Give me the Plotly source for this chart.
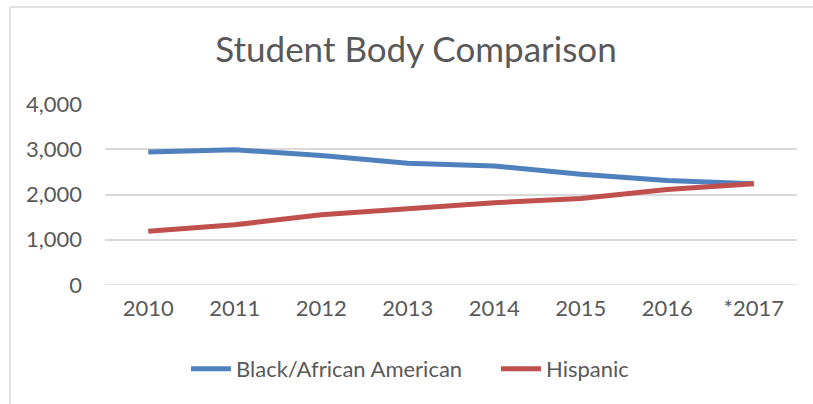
import plotly.graph_objects as go

years = ["2010", "2011", "2012", "2013", "2014", "2015", "2016", "*2017"]
black_african_american = [2940, 2990, 2860, 2690, 2630, 2450, 2310, 2240]
hispanic = [1190, 1330, 1550, 1680, 1820, 1910, 2110, 2240]
y_ticks = [0, 1000, 2000, 3000, 4000]

W, H = 813, 404
L, R, T, B = 105, 16, 104, 119
pw, ph = W - L - R, H - T - B

def px_x(x):
    return (x - L) / pw

def px_y(y):
    return (H - B - y) / ph

TEXT = "#595959"
FONT = "Lato"

fig = go.Figure()
fig.add_trace(go.Scatter(x=years, y=black_african_american, mode="lines",
                         name="Black/African American",
                         line=dict(color="#4f81bd", width=5)))
fig.add_trace(go.Scatter(x=years, y=hispanic, mode="lines",
                         name="Hispanic",
                         line=dict(color="#c0504d", width=5)))

fig.update_layout(
    width=W, height=H,
    margin=dict(l=L, r=R, t=T, b=B, autoexpand=False),
    paper_bgcolor="white", plot_bgcolor="white",
    font=dict(family=FONT, color=TEXT, size=22),
    title=dict(text="Student Body Comparison", x=px_x(416), xref="paper",
               y=1 - 50 / H, yref="container", xanchor="center", yanchor="middle",
               font=dict(family=FONT, size=35, color=TEXT)),
    xaxis=dict(type="category", showgrid=False, showline=False, ticks="",
               tickfont=dict(size=22, color=TEXT), ticklabelstandoff=8,
               range=[-0.5, len(years) - 0.5]),
    yaxis=dict(range=[0, 4000], tickvals=y_ticks, tickformat=",d",
               showgrid=True, gridcolor="#d9d9d9", gridwidth=1.5,
               zeroline=False, showline=False, ticks="",
               tickfont=dict(size=22, color=TEXT), ticklabelstandoff=22),
    legend=dict(orientation="h", x=px_x(496), xanchor="center",
                y=px_y(369), yanchor="middle",
                font=dict(size=22, color=TEXT), itemwidth=40,
                entrywidth=255, entrywidthmode="pixels",
                bgcolor="rgba(0,0,0,0)"),
    showlegend=True,
)

# chart frame edges (top and left)
fig.add_shape(type="line", xref="paper", yref="paper",
              x0=px_x(10), x1=px_x(W + 5), y0=px_y(7), y1=px_y(7),
              line=dict(color="#d9d9d9", width=1.5))
fig.add_shape(type="line", xref="paper", yref="paper",
              x0=px_x(10), x1=px_x(10), y0=px_y(7), y1=px_y(H + 5),
              line=dict(color="#d9d9d9", width=1.5))
# zero gridline at the bottom of the range
fig.add_shape(type="line", xref="paper", yref="y",
              x0=0, x1=1, y0=0, y1=0, layer="below",
              line=dict(color="#d9d9d9", width=1.5))

fig.write_html("out.html")
